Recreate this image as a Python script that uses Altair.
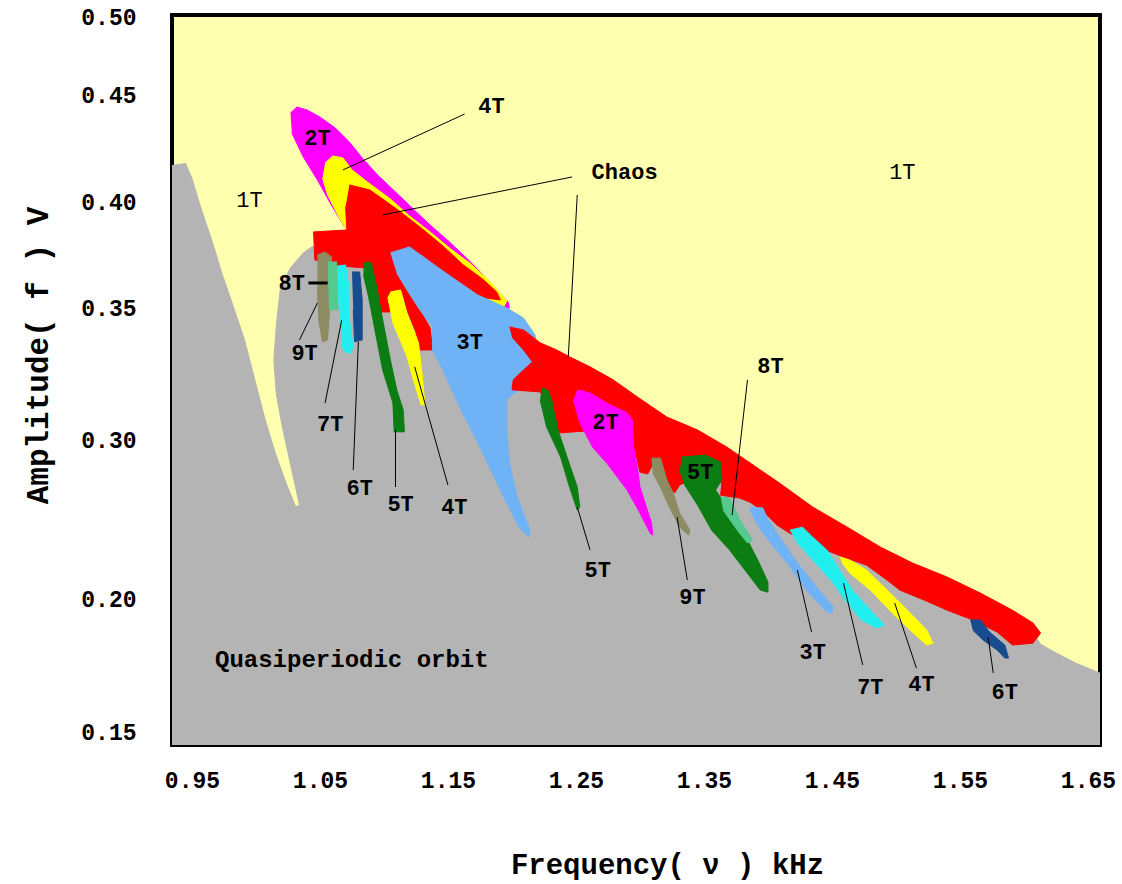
import altair as alt
import pandas as pd

# ---------------- axis tick values ----------------
FREQ_TICKS = [0.95, 1.05, 1.15, 1.25, 1.35, 1.45, 1.55, 1.65]
AMP_TICKS = [0.15, 0.20, 0.30, 0.35, 0.40, 0.45, 0.50]

# ---------------- regions (frequency kHz, amplitude V) ----------------
QUASI = [(0.934,0.145),(0.934,0.417),(0.945,0.418),(0.950,0.411),(0.956,0.399),(0.966,0.381),(0.973,0.367),(0.981,0.353),(0.991,0.338),(0.999,0.323),(1.007,0.308),(1.015,0.292),(1.023,0.274),(1.031,0.258),(1.034,0.259),(1.028,0.281),(1.021,0.304),(1.016,0.317),(1.014,0.330),(1.016,0.344),(1.019,0.359),(1.027,0.369),(1.037,0.376),(1.044,0.379),(1.081,0.377),(1.113,0.368),(1.195,0.345),(1.205,0.339),(1.235,0.331),(1.279,0.320),(1.321,0.306),(1.368,0.291),(1.409,0.268),(1.462,0.240),(1.513,0.218),(1.566,0.199),(1.605,0.189),(1.613,0.183),(1.624,0.180),(1.640,0.176),(1.660,0.172),(1.660,0.145)]

P2T_UPPER = [(1.027,0.4416),(1.032,0.4444),(1.040,0.4430),(1.050,0.4397),(1.062,0.4346),(1.073,0.4280),(1.083,0.4206),(1.095,0.4126),(1.109,0.4047),(1.122,0.3972),(1.136,0.3892),(1.152,0.3807),(1.166,0.3727),(1.179,0.3646),(1.189,0.3576),(1.197,0.3529),(1.198,0.3500),(1.191,0.3500),(1.167,0.3585),(1.144,0.3656),(1.113,0.3750),(1.081,0.3821),(1.072,0.3854),(1.066,0.3915),(1.058,0.3995),(1.048,0.4103),(1.037,0.4210),(1.028,0.4323)]

P4T_UPPER = [(1.054,0.4182),(1.060,0.4215),(1.068,0.4206),(1.075,0.4150),(1.087,0.4094),(1.105,0.4014),(1.120,0.3934),(1.136,0.3859),(1.152,0.3779),(1.167,0.3712),(1.183,0.3623),(1.196,0.3533),(1.193,0.3500),(1.183,0.3538),(1.167,0.3585),(1.144,0.3656),(1.113,0.3750),(1.081,0.3821),(1.072,0.3854),(1.064,0.3939),(1.056,0.4033),(1.052,0.4112)]

CHAOS_UPPER = [(1.073,0.4080),(1.089,0.4056),(1.099,0.4014),(1.113,0.3953),(1.130,0.3873),(1.146,0.3793),(1.162,0.3703),(1.177,0.3637),(1.188,0.3576),(1.191,0.3538),(1.173,0.3552),(1.146,0.3665),(1.120,0.3779),(1.109,0.3764),(1.110,0.3665),(1.118,0.3585),(1.128,0.3493),(1.136,0.3425),(1.138,0.3341),(1.128,0.3341),(1.125,0.3409),(1.116,0.3514),(1.109,0.3547),(1.106,0.3485),(1.097,0.3485),(1.091,0.3585),(1.085,0.3689),(1.066,0.3698),(1.046,0.3727),(1.045,0.3859),(1.071,0.3868),(1.070,0.3977)]

P9T_LEFT = [(1.048,0.3750),(1.054,0.3764),(1.059,0.3741),(1.058,0.3538),(1.056,0.3379),(1.052,0.3372),(1.049,0.3455),(1.048,0.3599)]
P8T_LEFT = [(1.056,0.3717),(1.063,0.3717),(1.064,0.3493),(1.057,0.3493)]
P7T_LEFT = [(1.064,0.3698),(1.070,0.3703),(1.073,0.3585),(1.073,0.3455),(1.076,0.3349),(1.073,0.3326),(1.068,0.3341),(1.066,0.3455),(1.064,0.3585)]
P6T_LEFT = [(1.075,0.3670),(1.081,0.3670),(1.083,0.3538),(1.083,0.3379),(1.077,0.3372),(1.076,0.3493)]
P5T_LEFT = [(1.084,0.3712),(1.090,0.3717),(1.094,0.3609),(1.098,0.3481),(1.105,0.3303),(1.110,0.3190),(1.115,0.3114),(1.116,0.3031),(1.108,0.3031),(1.107,0.3140),(1.099,0.3265),(1.094,0.3390),(1.088,0.3552),(1.084,0.3656)]
P4T_LEFT = [(1.105,0.3576),(1.113,0.3585),(1.118,0.3481),(1.127,0.3368),(1.130,0.3239),(1.132,0.3133),(1.129,0.3133),(1.123,0.3228),(1.118,0.3315),(1.107,0.3444),(1.103,0.3552)]

P3T_MID = [(1.105,0.3760),(1.120,0.3788),(1.146,0.3675),(1.173,0.3562),(1.196,0.3500),(1.209,0.3462),(1.218,0.3398),(1.222,0.3247),(1.202,0.3178),(1.196,0.3152),(1.196,0.3038),(1.198,0.2855),(1.204,0.2641),(1.214,0.2433),(1.213,0.2389),(1.205,0.2459),(1.191,0.2685),(1.175,0.2955),(1.159,0.3125),(1.146,0.3265),(1.138,0.3341),(1.138,0.3428),(1.128,0.3493),(1.118,0.3585),(1.110,0.3665)]

CHAOS_BAND = [(1.198,0.3428),(1.209,0.3417),(1.222,0.3368),(1.235,0.3341),(1.245,0.3315),(1.261,0.3277),(1.279,0.3228),(1.298,0.3163),(1.321,0.3087),(1.345,0.3038),(1.368,0.2955),(1.384,0.2867),(1.409,0.2729),(1.435,0.2578),(1.462,0.2452),(1.488,0.2326),(1.513,0.2226),(1.540,0.2138),(1.566,0.2037),(1.591,0.1958),(1.607,0.1910),(1.613,0.1872),(1.607,0.1834),(1.591,0.1827),(1.579,0.1876),(1.558,0.1925),(1.540,0.1958),(1.524,0.1992),(1.503,0.2056),(1.493,0.2119),(1.477,0.2213),(1.459,0.2264),(1.441,0.2320),(1.417,0.2414),(1.407,0.2465),(1.396,0.2553),(1.386,0.2609),(1.378,0.2635),(1.363,0.2653),(1.364,0.2735),(1.339,0.2748),(1.331,0.2716),(1.327,0.2666),(1.322,0.2716),(1.318,0.2842),(1.312,0.2874),(1.306,0.2786),(1.300,0.2798),(1.297,0.2905),(1.269,0.3038),(1.249,0.3031),(1.238,0.3027),(1.231,0.3046),(1.226,0.3152),(1.222,0.3182),(1.200,0.3190),(1.201,0.3228),(1.209,0.3265),(1.216,0.3296),(1.209,0.3341),(1.200,0.3390)]

P5T_A = [(1.223,0.3197),(1.228,0.3190),(1.231,0.3152),(1.236,0.3038),(1.243,0.2893),(1.251,0.2704),(1.253,0.2578),(1.251,0.2559),(1.245,0.2704),(1.238,0.2893),(1.227,0.3050),(1.222,0.3152)]
P2T_B = [(1.251,0.3190),(1.261,0.3178),(1.274,0.3140),(1.290,0.3103),(1.294,0.3076),(1.295,0.2955),(1.298,0.2830),(1.300,0.2704),(1.305,0.2578),(1.309,0.2477),(1.310,0.2402),(1.308,0.2414),(1.300,0.2540),(1.290,0.2685),(1.274,0.2855),(1.263,0.2955),(1.253,0.3065),(1.248,0.3152)]
P9T_B = [(1.309,0.2886),(1.316,0.2886),(1.321,0.2748),(1.326,0.2666),(1.331,0.2540),(1.339,0.2433),(1.338,0.2402),(1.331,0.2452),(1.323,0.2578),(1.316,0.2704),(1.310,0.2792)]
P5T_B = [(1.333,0.2893),(1.351,0.2905),(1.363,0.2861),(1.364,0.2748),(1.359,0.2685),(1.370,0.2559),(1.382,0.2402),(1.392,0.2245),(1.400,0.2106),(1.400,0.2043),(1.394,0.2056),(1.382,0.2182),(1.370,0.2308),(1.356,0.2433),(1.345,0.2591),(1.335,0.2716),(1.331,0.2811)]
P8T_B = [(1.363,0.2641),(1.370,0.2635),(1.378,0.2496),(1.388,0.2370),(1.384,0.2352),(1.376,0.2433),(1.365,0.2559)]
P3T_B = [(1.386,0.2578),(1.396,0.2572),(1.399,0.2515),(1.409,0.2389),(1.423,0.2226),(1.438,0.2075),(1.451,0.1970),(1.450,0.1947),(1.446,0.1951),(1.430,0.2056),(1.415,0.2226),(1.402,0.2352),(1.391,0.2477),(1.386,0.2559)]
P7T_B = [(1.417,0.2433),(1.427,0.2452),(1.435,0.2389),(1.446,0.2308),(1.456,0.2182),(1.466,0.2056),(1.482,0.1947),(1.491,0.1902),(1.485,0.1891),(1.473,0.1921),(1.462,0.1985),(1.451,0.2100),(1.435,0.2245),(1.423,0.2352)]
P4T_B = [(1.456,0.2264),(1.464,0.2245),(1.477,0.2182),(1.493,0.2056),(1.509,0.1958),(1.524,0.1883),(1.529,0.1834),(1.524,0.1827),(1.511,0.1883),(1.495,0.1958),(1.480,0.2056),(1.464,0.2163),(1.458,0.2226)]
P6T_B = [(1.558,0.1921),(1.566,0.1921),(1.573,0.1876),(1.585,0.1827),(1.588,0.1778),(1.585,0.1778),(1.579,0.1808),(1.568,0.1846),(1.560,0.1883)]

# ---------------- labels: (text, freq, amp, weight) ----------------
LABELS = [
    ("1T", 0.995, 0.401, "normal"), ("1T", 1.505, 0.414, "normal"),
    ("2T", 1.048, 0.430, "bold"), ("4T", 1.184, 0.445, "bold"),
    ("Chaos", 1.288, 0.414, "bold"),
    ("8T", 1.028, 0.362, "bold"), ("9T", 1.038, 0.333, "bold"),
    ("3T", 1.167, 0.337, "bold"), ("7T", 1.058, 0.306, "bold"),
    ("6T", 1.081, 0.270, "bold"), ("5T", 1.113, 0.260, "bold"),
    ("4T", 1.155, 0.258, "bold"), ("5T", 1.267, 0.218, "bold"),
    ("2T", 1.273, 0.307, "bold"), ("9T", 1.341, 0.201, "bold"),
    ("5T", 1.347, 0.280, "bold"), ("8T", 1.402, 0.328, "bold"),
    ("3T", 1.435, 0.180, "bold"), ("7T", 1.480, 0.167, "bold"),
    ("4T", 1.520, 0.168, "bold"), ("6T", 1.585, 0.165, "bold"),
]
QUASI_LABEL = ("Quasiperiodic orbit", 0.968, 0.177)

# ---------------- leader lines: (f1, a1, f2, a2, width) ----------------
LEADERS = [
    (1.163, 0.4411, 1.068, 0.4150, 1), (1.247, 0.4117, 1.099, 0.3939, 1),
    (1.251, 0.4033, 1.244, 0.3315, 1), (1.041, 0.3618, 1.056, 0.3618, 3),
    (1.034, 0.3379, 1.048, 0.3524, 1), (1.054, 0.3140, 1.067, 0.3455, 1),
    (1.076, 0.2811, 1.080, 0.3372, 1), (1.109, 0.2704, 1.109, 0.3038, 1),
    (1.150, 0.2716, 1.124, 0.3277, 1), (1.261, 0.2308, 1.251, 0.2578, 1),
    (1.337, 0.2119, 1.329, 0.2515, 1), (1.384, 0.3228, 1.372, 0.2528, 1),
    (1.434, 0.1876, 1.423, 0.2182, 1), (1.474, 0.1752, 1.459, 0.2100, 1),
    (1.516, 0.1740, 1.499, 0.1985, 1), (1.576, 0.1722, 1.572, 0.1857, 1),
]

GRAY = "#b4b4b4"
BG_YELLOW = "#ffffb0"
RED = "#ff0000"
MAGENTA = "#ff00ff"
YELLOW = "#ffff00"
LBLUE = "#70b2f6"
OLIVE = "#8d8b62"
AQUA = "#55c98e"
CYAN = "#22eef0"
DBLUE = "#174c8e"
GREEN = "#0b7d12"

REGIONS = [
    (QUASI, GRAY), (P2T_UPPER, MAGENTA), (P4T_UPPER, YELLOW), (CHAOS_UPPER, RED),
    (P9T_LEFT, OLIVE), (P8T_LEFT, AQUA), (P7T_LEFT, CYAN), (P6T_LEFT, DBLUE),
    (P5T_LEFT, GREEN), (P4T_LEFT, YELLOW), (P3T_MID, LBLUE), (CHAOS_BAND, RED),
    (P5T_A, GREEN), (P2T_B, MAGENTA), (P9T_B, OLIVE), (P5T_B, GREEN),
    (P8T_B, AQUA), (P3T_B, LBLUE), (P7T_B, CYAN), (P4T_B, YELLOW), (P6T_B, DBLUE),
]

FONT = "Liberation Mono"

x_scale = alt.Scale(domain=[0.9344, 1.6594], nice=False, zero=False)
y_scale = alt.Scale(domain=[0.1451, 0.15, 0.20, 0.30, 0.35, 0.40, 0.45, 0.50, 0.5013],
                    range=[730, 717, 584, 425, 293, 187, 80, 2, 0], nice=False, zero=False)

x_axis = alt.Axis(values=FREQ_TICKS, format=".2f", grid=False, ticks=False, tickSize=0,
                  domain=False, labelFont=FONT, labelFontSize=23, labelFontWeight="bold",
                  labelColor="black", labelPadding=35, labelBaseline="middle",
                  labelFlush=False, labelOverlap=False,
                  title="Frequency( ν )  kHz", titleFont=FONT, titleFontSize=29,
                  titleFontWeight="bold", titleColor="black", titleX=495, titleY=119,
                  titleBaseline="middle", titleAlign="center")
y_axis = alt.Axis(values=AMP_TICKS, format=".2f", grid=False, ticks=False, tickSize=0,
                  domain=False, labelFont=FONT, labelFontSize=23, labelFontWeight="bold",
                  labelColor="black", labelPadding=36, labelFlush=False, labelOverlap=False,
                  title="Amplitude( f ) V", titleFont=FONT, titleFontSize=31,
                  titleFontWeight="bold", titleColor="black", titleX=-134, titleY=340,
                  titleAngle=270, titleBaseline="middle", titleAlign="center")

X = alt.X("freq:Q", scale=x_scale, axis=x_axis)
Y = alt.Y("amp:Q", scale=y_scale, axis=y_axis)

layers = []
for pts, color in REGIONS:
    df = pd.DataFrame({"freq": [p[0] for p in pts], "amp": [p[1] for p in pts],
                       "k": list(range(len(pts)))})
    layers.append(
        alt.Chart(df).mark_line(fill=color, stroke=color, strokeWidth=1, clip=True,
                                interpolate="linear")
        .encode(x=X, y=Y, order="k:Q")
    )

lead_df = pd.DataFrame({"freq": [l[0] for l in LEADERS], "amp": [l[1] for l in LEADERS],
                        "freq2": [l[2] for l in LEADERS], "amp2": [l[3] for l in LEADERS],
                        "w": [l[4] for l in LEADERS]})
layers.append(
    alt.Chart(lead_df).mark_rule(color="black").encode(
        x=X, y=Y, x2="freq2:Q", y2="amp2:Q",
        strokeWidth=alt.StrokeWidth("w:Q", scale=None))
)

lab_df = pd.DataFrame({"t": [l[0] for l in LABELS], "freq": [l[1] for l in LABELS],
                       "amp": [l[2] for l in LABELS], "wt": [l[3] for l in LABELS]})
for wt in ["normal", "bold"]:
    layers.append(
        alt.Chart(lab_df[lab_df.wt == wt]).mark_text(font=FONT, fontSize=22, fontWeight=wt,
                                                    color="black")
        .encode(x=X, y=Y, text="t:N")
    )

q_df = pd.DataFrame({"t": [QUASI_LABEL[0]], "freq": [QUASI_LABEL[1]], "amp": [QUASI_LABEL[2]]})
layers.append(
    alt.Chart(q_df).mark_text(font=FONT, fontSize=24, fontWeight="bold", color="black",
                              align="left").encode(x=X, y=Y, text="t:N")
)

chart = alt.layer(*layers).properties(
    width=928, height=730, background="white",
    padding={"left": 172, "top": 15, "right": 22, "bottom": 139},
    autosize=alt.AutoSizeParams(type="none"),
).configure_view(fill=BG_YELLOW, stroke="black", strokeWidth=4)

chart.save("out.html", embed_options={"renderer": "svg", "actions": False})
